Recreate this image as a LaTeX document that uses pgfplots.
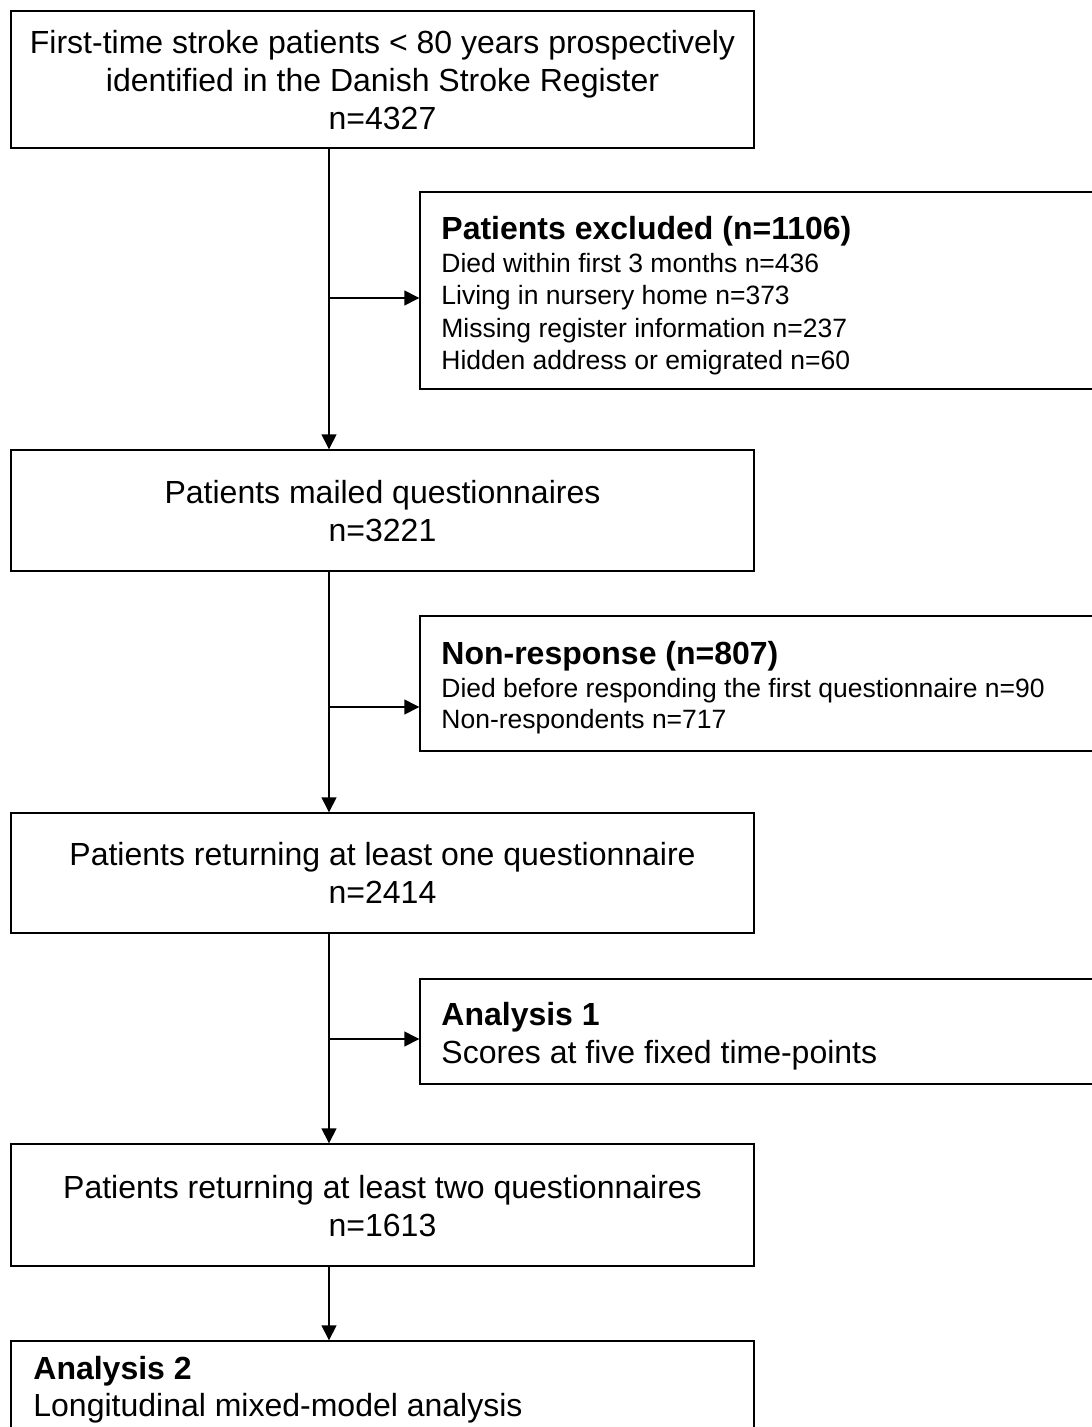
\documentclass[border=0pt]{standalone}
\usepackage{fontspec}
\setmainfont{Liberation Sans}
\usepackage{pgfplots}
\pgfplotsset{compat=1.18}
\usetikzlibrary{arrows.meta}
\newcommand{\bigfs}{\fontsize{16}{19}\selectfont}
\newcommand{\smlfs}{\fontsize{13.25}{16}\selectfont}
\begin{document}
\begin{tikzpicture}
\begin{axis}[
  x=0.5pt, y=0.5pt, y dir=reverse,
  xmin=0, xmax=1091, ymin=0, ymax=1427,
  hide axis, clip=false,
]
\coordinate (SW) at (axis cs:0,1427);
\coordinate (NE) at (axis cs:1091,0);
% main boxes
\draw[line width=1.35pt] (axis cs:11,11) rectangle (axis cs:754,148);
\draw[line width=1.35pt] (axis cs:11,450) rectangle (axis cs:754,571);
\draw[line width=1.35pt] (axis cs:11,813) rectangle (axis cs:754,933);
\draw[line width=1.35pt] (axis cs:11,1144) rectangle (axis cs:754,1266);
\draw[line width=1.35pt] (axis cs:11,1480) -- (axis cs:11,1341) -- (axis cs:754,1341) -- (axis cs:754,1480);
% side boxes
\draw[line width=1.35pt] (axis cs:1120,192) -- (axis cs:420,192) -- (axis cs:420,389) -- (axis cs:1120,389);
\draw[line width=1.35pt] (axis cs:1120,616) -- (axis cs:420,616) -- (axis cs:420,751) -- (axis cs:1120,751);
\draw[line width=1.35pt] (axis cs:1120,979) -- (axis cs:420,979) -- (axis cs:420,1084) -- (axis cs:1120,1084);
% connectors
\tikzset{arr/.style={line width=0.7pt, -{Triangle[length=7.5pt,width=7.5pt]}}}
\draw[arr] (axis cs:329,148) -- (axis cs:329,449.3);
\draw[arr] (axis cs:329,571) -- (axis cs:329,812.3);
\draw[arr] (axis cs:329,933) -- (axis cs:329,1143.3);
\draw[arr] (axis cs:329,1266) -- (axis cs:329,1340.3);
\draw[arr] (axis cs:329,298) -- (axis cs:419.3,298);
\draw[arr] (axis cs:329,707) -- (axis cs:419.3,707);
\draw[arr] (axis cs:329,1039) -- (axis cs:419.3,1039);
% centred texts
\tikzset{ct/.style={anchor=base, inner sep=0pt, font=\bigfs}}
\node[ct] at (axis cs:382.5,54) {First-time stroke patients < 80 years prospectively};
\node[ct] at (axis cs:382.5,92) {identified in the Danish Stroke Register};
\node[ct] at (axis cs:382.5,130) {n=4327};
\node[ct] at (axis cs:382.5,503) {Patients mailed questionnaires};
\node[ct] at (axis cs:382.5,541) {n=3221};
\node[ct] at (axis cs:382.5,865) {Patients returning at least one questionnaire};
\node[ct] at (axis cs:382.5,903) {n=2414};
\node[ct] at (axis cs:382.5,1198) {Patients returning at least two questionnaires};
\node[ct] at (axis cs:382.5,1236) {n=1613};
% left-aligned texts
\tikzset{lb/.style={anchor=base west, inner sep=0pt, font=\bigfs\bfseries},
         ls/.style={anchor=base west, inner sep=0pt, font=\smlfs},
         lt/.style={anchor=base west, inner sep=0pt, font=\bigfs}}
\node[lb] at (axis cs:441,240) {Patients excluded (n=1106)};
\node[ls] at (axis cs:441,273) {Died within first 3 months n=436};
\node[ls] at (axis cs:441,305) {Living in nursery home n=373};
\node[ls] at (axis cs:441,337) {Missing register information n=237};
\node[ls] at (axis cs:441,369) {Hidden address or emigrated n=60};
\node[lb] at (axis cs:441,664) {Non-response (n=807)};
\node[ls] at (axis cs:441,697) {Died before responding the first questionnaire n=90};
\node[ls] at (axis cs:441,728) {Non-respondents n=717};
\node[lb] at (axis cs:441,1025) {Analysis 1};
\node[lt] at (axis cs:441,1063) {Scores at five fixed time-points};
\node[lb] at (axis cs:33,1379) {Analysis 2};
\node[lt] at (axis cs:33,1416) {Longitudinal mixed-model analysis};
\end{axis}
\pgfresetboundingbox
\path (SW) rectangle (NE);
\end{tikzpicture}
\end{document}
